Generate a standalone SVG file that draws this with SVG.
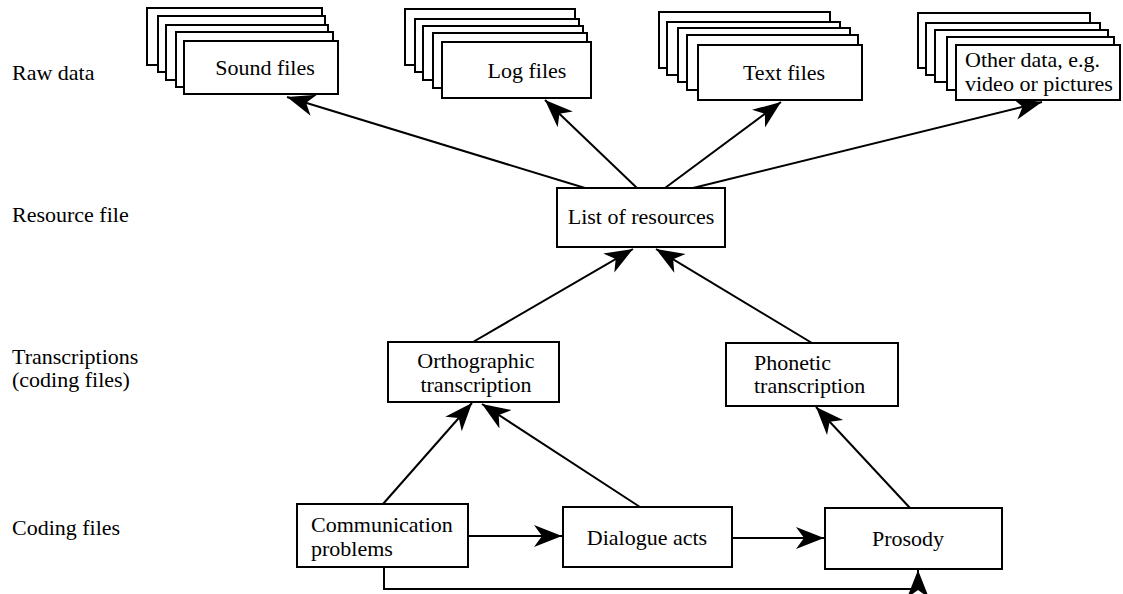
<svg xmlns="http://www.w3.org/2000/svg" width="1123" height="594" viewBox="0 0 1123 594" font-family="Liberation Serif, Times New Roman, serif">
<defs>
<style>
.t{font-size:22px;fill:#000}
.m{text-anchor:middle}
.b{fill:#fff;stroke:#000;stroke-width:2}
.c{fill:none;stroke:#000;stroke-width:2}
</style>
<marker id="ah" markerUnits="userSpaceOnUse" markerWidth="30" markerHeight="24" viewBox="0 0 30 24" refX="28" refY="12" orient="auto">
<path d="M0,1 L28,12 L0,23 L8,12 z" fill="#000"/>
</marker>
</defs>
<rect width="1123" height="594" fill="#fff"/>
<g id="row-labels">
<text class="t" x="12" y="80">Raw data</text>
<text class="t" x="12" y="222">Resource file</text>
<text class="t" x="12" y="364">Transcriptions</text>
<text class="t" x="12" y="387">(coding files)</text>
<text class="t" x="12" y="535">Coding files</text>
</g>
<g id="connectors">
<line class="c" x1="585" y1="188" x2="287" y2="97" marker-end="url(#ah)"/>
<line class="c" x1="637" y1="188" x2="545" y2="100" marker-end="url(#ah)"/>
<line class="c" x1="665" y1="188" x2="781" y2="102" marker-end="url(#ah)"/>
<line class="c" x1="693" y1="188" x2="1042" y2="102" marker-end="url(#ah)"/>
<line class="c" x1="473" y1="342" x2="633" y2="249" marker-end="url(#ah)"/>
<line class="c" x1="812" y1="343" x2="656" y2="249" marker-end="url(#ah)"/>
<line class="c" x1="383" y1="504" x2="472" y2="403" marker-end="url(#ah)"/>
<line class="c" x1="640" y1="507" x2="482" y2="404" marker-end="url(#ah)"/>
<line class="c" x1="910" y1="508" x2="816" y2="407" marker-end="url(#ah)"/>
<line class="c" x1="468" y1="536" x2="562" y2="536" marker-end="url(#ah)"/>
<line class="c" x1="732" y1="538" x2="824" y2="538" marker-end="url(#ah)"/>
<polyline class="c" points="384,567 384,589 918,589 918,570" marker-end="url(#ah)"/>
</g>
<g id="sound-files">
<rect class="b" x="147" y="8" width="175" height="57"/>
<rect class="b" x="158" y="16" width="167" height="56"/>
<rect class="b" x="166" y="25" width="162" height="55"/>
<rect class="b" x="176" y="32" width="157" height="55"/>
<rect class="b" x="184" y="41" width="154" height="53"/>
<text class="t m" x="265" y="75">Sound files</text>
</g>
<g id="log-files">
<rect class="b" x="405" y="9" width="170" height="56"/>
<rect class="b" x="415" y="19" width="164" height="53"/>
<rect class="b" x="423" y="26" width="160" height="54"/>
<rect class="b" x="433" y="33" width="154" height="55"/>
<rect class="b" x="442" y="42" width="149" height="56"/>
<text class="t m" x="527" y="78">Log files</text>
</g>
<g id="text-files">
<rect class="b" x="659" y="12" width="171" height="56"/>
<rect class="b" x="667" y="22" width="173" height="53"/>
<rect class="b" x="678" y="28" width="172" height="54"/>
<rect class="b" x="687" y="35" width="171" height="55"/>
<rect class="b" x="698" y="45" width="164" height="55"/>
<text class="t m" x="784" y="80">Text files</text>
</g>
<g id="other-data">
<rect class="b" x="918" y="13" width="172" height="55"/>
<rect class="b" x="926" y="23" width="174" height="52"/>
<rect class="b" x="935" y="30" width="173" height="52"/>
<rect class="b" x="947" y="37" width="167" height="53"/>
<rect class="b" x="956" y="45" width="164" height="55"/>
<text class="t" x="965" y="67">Other data, e.g.</text>
<text class="t" x="965" y="91">video or pictures</text>
</g>
<g id="list-of-resources">
<rect class="b" x="557" y="188" width="168" height="59"/>
<text class="t m" x="641" y="224">List of resources</text>
</g>
<g id="orthographic-transcription">
<rect class="b" x="388" y="342" width="171" height="60"/>
<text class="t m" x="476" y="368">Orthographic</text>
<text class="t m" x="476" y="392">transcription</text>
</g>
<g id="phonetic-transcription">
<rect class="b" x="726" y="343" width="172" height="63"/>
<text class="t" x="754" y="370">Phonetic</text>
<text class="t" x="754" y="393">transcription</text>
</g>
<g id="communication-problems">
<rect class="b" x="297" y="504" width="171" height="63"/>
<text class="t" x="311" y="532">Communication</text>
<text class="t" x="311" y="556">problems</text>
</g>
<g id="dialogue-acts">
<rect class="b" x="563" y="507" width="169" height="60"/>
<text class="t m" x="647" y="545">Dialogue acts</text>
</g>
<g id="prosody">
<rect class="b" x="825" y="508" width="177" height="61"/>
<text class="t m" x="908" y="546">Prosody</text>
</g>
</svg>
